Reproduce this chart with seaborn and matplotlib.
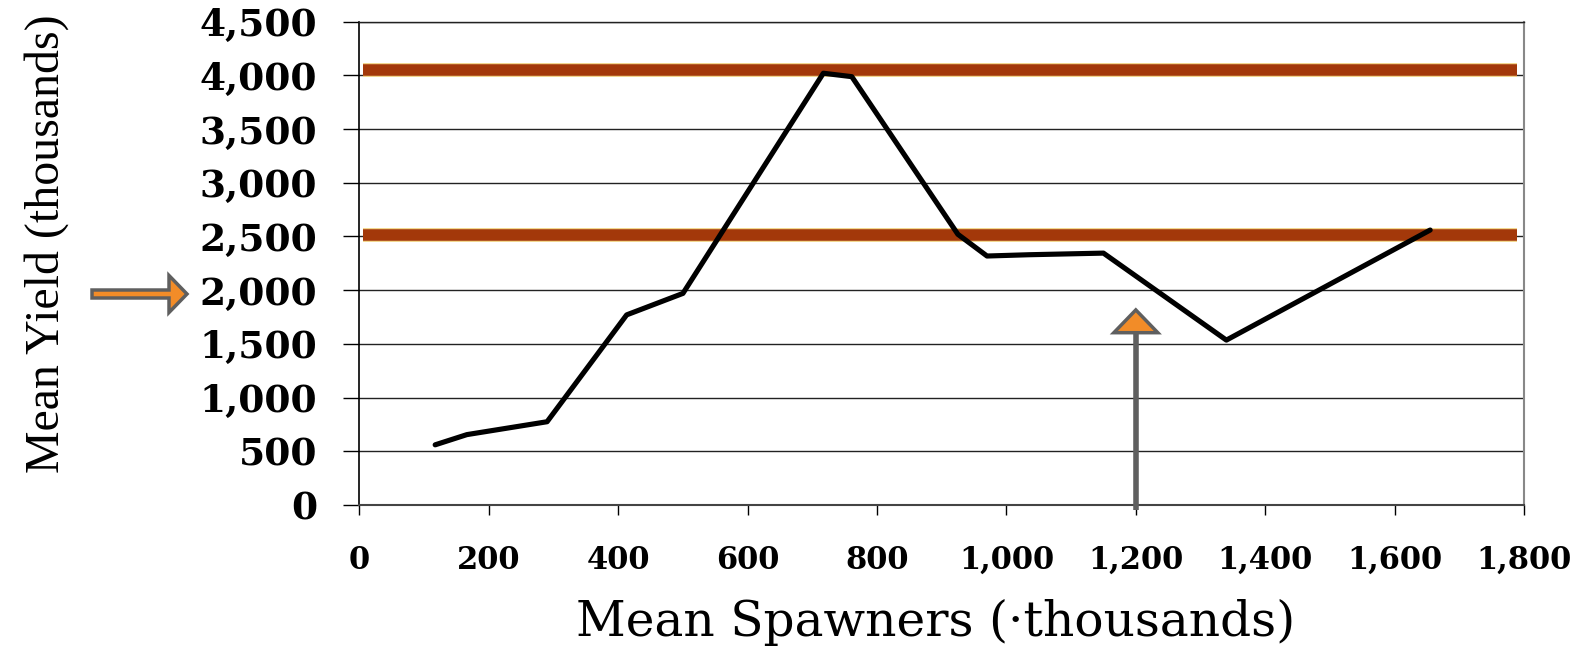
import matplotlib
matplotlib.use("Agg")
import matplotlib.pyplot as plt
import matplotlib.patches as mpatches
import seaborn as sns
import pandas as pd

# datos
spawners = [117, 166, 290, 413, 500, 717, 761, 925, 970, 1035, 1150, 1340, 1655]
yield_mean = [560, 655, 775, 1770, 1970, 4020, 3988, 2520, 2318, 2330, 2345, 1535, 2560]
ref_lines = [4050, 2515]
x_ticks = list(range(0, 1801, 200))
y_ticks = list(range(0, 4501, 500))
arrow_x = 1200

df = pd.DataFrame({"spawners": spawners, "yield": yield_mean})

sns.set_style("white")
plt.rcParams["font.family"] = ["DejaVu Serif"]
plt.rcParams["text.color"] = "black"

fig = plt.figure(figsize=(15.85, 6.53), dpi=100)
ax = fig.add_axes([0.2268, 0.2267, 0.9615 - 0.2268, 0.9668 - 0.2267])

# lineas de referencia (rojas con borde amarillo)
for yv in ref_lines:
    ax.hlines(yv, 5, 1789, color="#F2D58A", lw=10, zorder=2)
    ax.hlines(yv, 5, 1789, color="#A3380A", lw=8.3, zorder=3)

sns.lineplot(data=df, x="spawners", y="yield", color="black", lw=3.7, ax=ax,
             zorder=4, estimator=None, sort=False)

ax.set_xlim(0, 1800)
ax.set_ylim(0, 4500)
ax.set_xticks(x_ticks)
ax.set_yticks(y_ticks)
ax.set_xticklabels([f"{v:,}" for v in x_ticks], fontsize=22, fontweight="bold",
                   family="DejaVu Serif")
ax.set_yticklabels([f"{v:,}" for v in y_ticks], fontsize=27, fontweight="bold",
                   family="DejaVu Serif")
ax.tick_params(axis="y", direction="out", length=11.5, width=1, pad=19, left=True,
               colors="black")
ax.tick_params(axis="x", direction="out", length=7, width=1, pad=22, bottom=True,
               colors="black")
ax.yaxis.grid(True, color="#222222", lw=1)
ax.xaxis.grid(False)
ax.set_axisbelow(True)
ax.set_xlabel("")
ax.set_ylabel("")

ax.spines["left"].set_color("black")
ax.spines["left"].set_linewidth(1.2)
ax.spines["bottom"].set_color("#444444")
ax.spines["bottom"].set_linewidth(1.5)
ax.spines["right"].set_color("#888888")
ax.spines["right"].set_linewidth(1.5)
ax.spines["top"].set_color("#222222")
ax.spines["top"].set_linewidth(1)

# flecha vertical en 1,200
gris = "#5F5F5F"
naranja = "#F28C28"
ax.plot([arrow_x, arrow_x], [-47, 1610], color=gris, lw=4, clip_on=False, zorder=5,
        solid_capstyle="butt")
tri = mpatches.Polygon([[arrow_x - 34, 1604], [arrow_x + 34, 1604], [arrow_x, 1816]],
                       closed=True, facecolor=naranja, edgecolor=gris, lw=2.5,
                       zorder=6, clip_on=False)
ax.add_patch(tri)

# flecha horizontal junto a 2,000
W, H = 1585, 653
harrow = mpatches.FancyArrow(92 / W, 1 - 294 / H, (187 - 92) / W, 0,
                             width=8 / H, head_width=37 / H, head_length=18 / W,
                             length_includes_head=True, facecolor=naranja,
                             edgecolor=gris, lw=2.5, transform=fig.transFigure)
fig.patches.append(harrow)

fig.text(47 / W, 1 - 244 / H, "Mean Yield (thousands)", rotation=90, ha="center",
         va="center", fontsize=34.5, family="Liberation Serif", color="black")
fig.text(936 / W, 1 - 622 / H, "Mean Spawners (\u00b7thousands)", ha="center",
         va="center", fontsize=35, family="DejaVu Serif", color="black")

fig.savefig("out.png", dpi=100, facecolor="white")
